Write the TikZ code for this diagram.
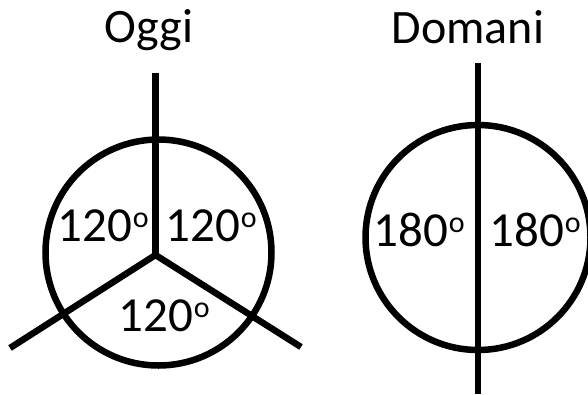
\documentclass[tikz,border=0pt]{standalone}
\usepackage{fontspec}
\setmainfont{Carlito}
\newcommand\degsupo{\hspace{1pt}\raisebox{14pt}{\fontsize{30}{30}\selectfont o}}
\begin{document}
\begin{tikzpicture}[x=1pt,y=-1pt,
  stroke/.style={line width=6.5pt,black},
  title/.style={font=\fontsize{48}{52}\selectfont,anchor=base,inner sep=0pt},
  deg/.style={font=\fontsize{49}{54}\selectfont,anchor=base,inner sep=0pt}]
\useasboundingbox (0,0) rectangle (588,394);
% left figure
\coordinate (Lc) at (158.5,252.5);
\coordinate (Ls) at (155.5,255);
\coordinate (Lt) at (155.5,73);
\coordinate (Ll) at (10,348);
\coordinate (Lr) at (301,347);
\draw[stroke] (Lc) circle[radius=113];
\draw[stroke] (Ls) -- (Lt);
\draw[stroke] (Ls) -- (Ll);
\draw[stroke] (Ls) -- (Lr);
\node[title] (oggi) at (149,42) {Oggi};
\node[deg] (a1) at (103,241) {120\degsupo};
\node[deg] (a2) at (211,241) {120\degsupo};
\node[deg] (a3) at (164,331) {120\degsupo};
% right figure
\coordinate (Rc) at (478,237.5);
\coordinate (Rt) at (478,63);
\coordinate (Rb) at (478,394);
\draw[stroke] (Rc) circle[radius=112.5];
\draw[stroke] (Rt) -- (Rb);
\node[title] (domani) at (468,43) {Domani};
\node[deg] (b1) at (419,246) {180\degsupo};
\node[deg] (b2) at (535,246) {180\degsupo};
\end{tikzpicture}
\end{document}
